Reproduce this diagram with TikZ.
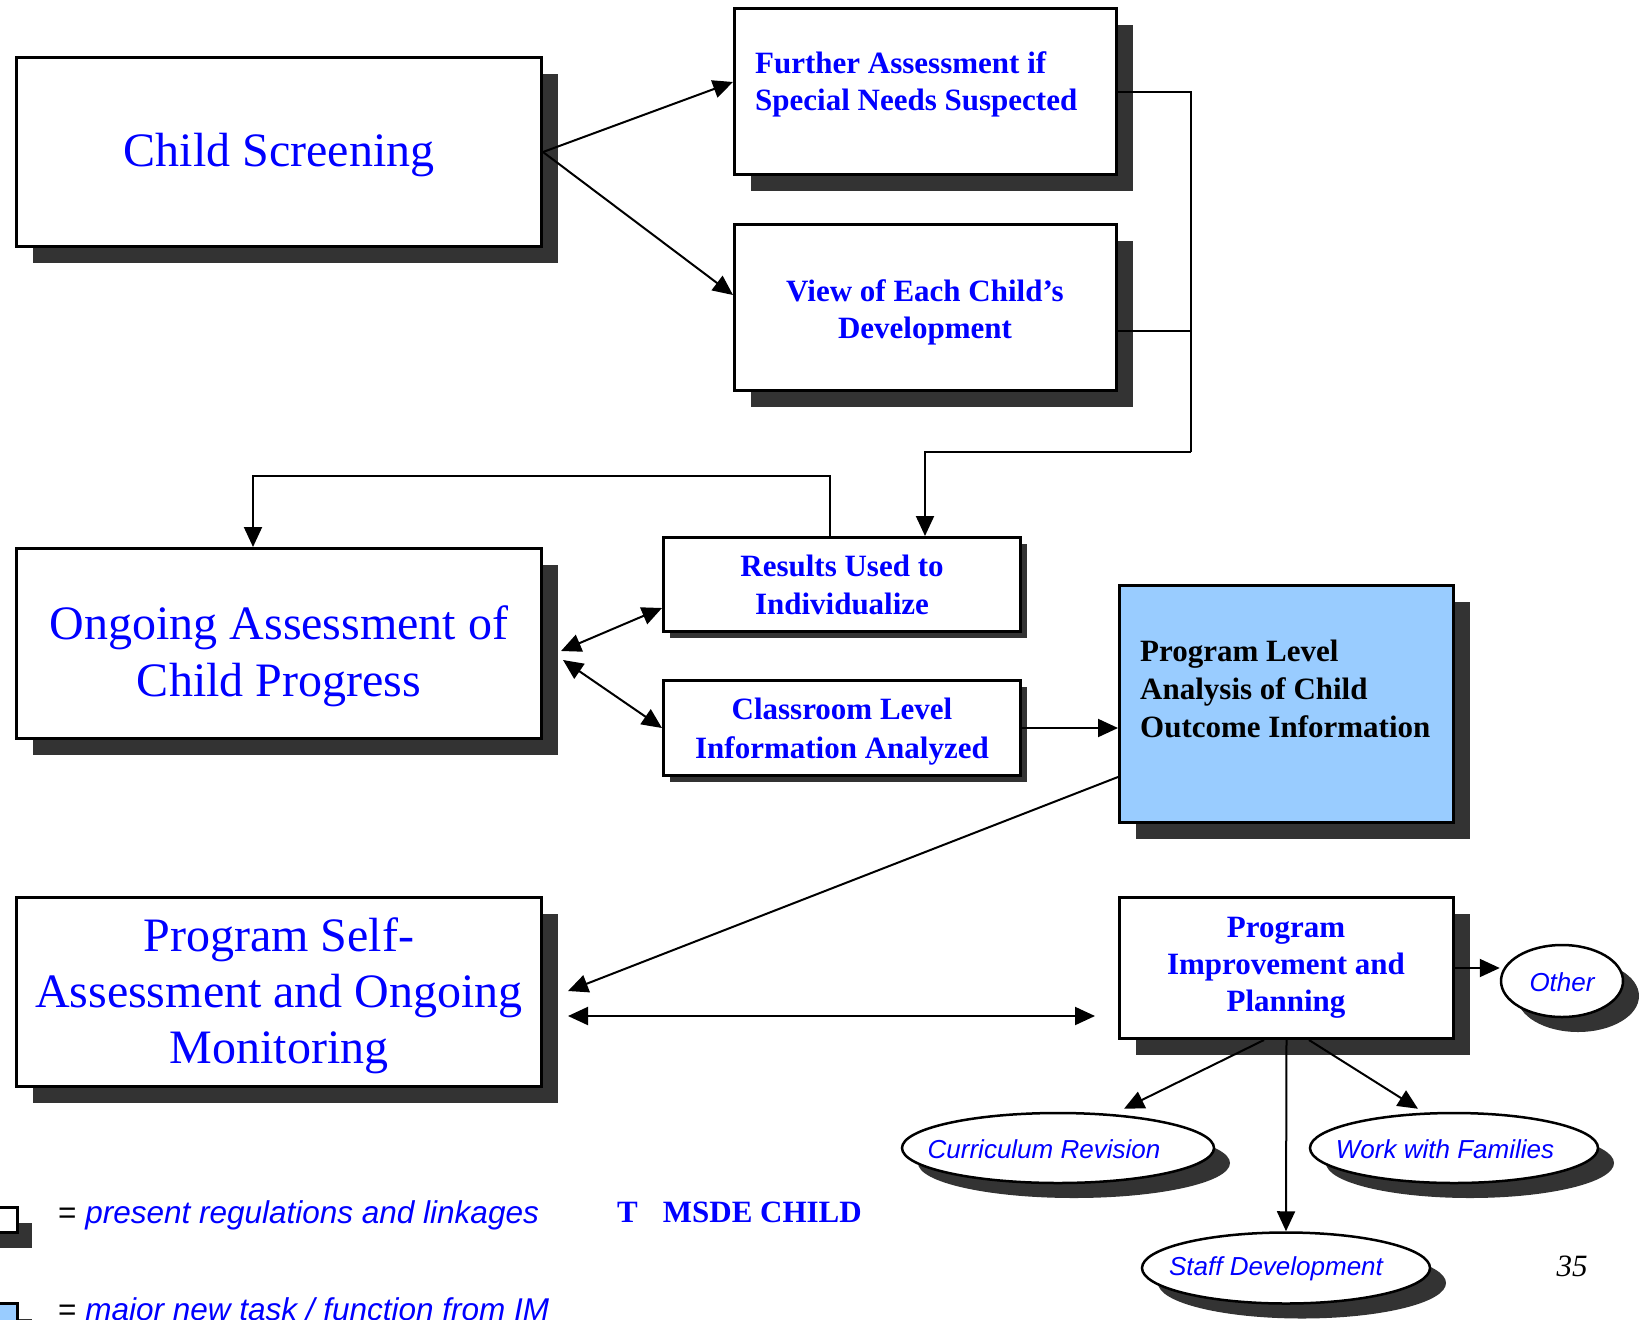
\documentclass[tikz,border=0pt]{standalone}
\usepackage{fontspec}
\setmainfont{Liberation Serif}
\newfontfamily\arialf{Liberation Sans}
\usetikzlibrary{arrows.meta,shapes.geometric,shadows}
\definecolor{tblue}{HTML}{0000FF}
\definecolor{shd}{HTML}{333333}
\definecolor{lblue}{HTML}{99CCFF}
\begin{document}
\begin{tikzpicture}[x=1pt,y=-1pt,
  box/.style={draw=black, line width=3pt, fill=white, rectangle, inner sep=0pt},
  bigsh/.style={drop shadow={shadow xshift=16pt, shadow yshift=-16pt, fill=shd, opacity=1}},
  smallsh/.style={drop shadow={shadow xshift=6pt, shadow yshift=-6pt, fill=shd, opacity=1}},
  oval/.style={ellipse, draw=black, line width=2.5pt, fill=white, inner sep=0pt,
    drop shadow={shadow xshift=16pt, shadow yshift=-15pt, fill=shd, opacity=1}},
  arr/.style={line width=2pt, -{Triangle[length=20pt,width=18pt]}},
  darr/.style={line width=2pt, {Triangle[length=20pt,width=18pt]}-{Triangle[length=20pt,width=18pt]}},
  ln/.style={line width=2pt},
  bigtxt/.style={text=tblue, font=\fontsize{48}{57}\selectfont, align=center, inner sep=0pt},
  boldtxt/.style={text=tblue, font=\bfseries\fontsize{31}{37}\selectfont, align=center, inner sep=0pt},
  ovaltxt/.style={text=tblue, font=\arialf\itshape\fontsize{26}{30}\selectfont, inner sep=0pt},
  legtxt/.style={font=\arialf\fontsize{31.5}{36}\selectfont, inner sep=0pt, anchor=base west},
]
\useasboundingbox (0,0) rectangle (1647,1320);
\clip (0,0) rectangle (1647,1320);

% boxes
\node[box, bigsh, minimum width=525pt, minimum height=189pt] (cs) at (279,152) {};
\node[box, bigsh, minimum width=382pt, minimum height=166pt] (further) at (925.5,91.5) {};
\node[box, bigsh, minimum width=382pt, minimum height=166pt] (view) at (925.5,307.5) {};
\node[box, smallsh, minimum width=357pt, minimum height=94pt] (results) at (842,584.5) {};
\node[box, smallsh, minimum width=357pt, minimum height=95pt] (classroom) at (842,728) {};
\node[box, bigsh, minimum width=525pt, minimum height=190pt] (ongoing) at (279,643.5) {};
\node[box, bigsh, fill=lblue, minimum width=334pt, minimum height=237pt] (proglevel) at (1286.5,704) {};
\node[box, bigsh, minimum width=525pt, minimum height=189pt] (progself) at (279,992) {};
\node[box, bigsh, minimum width=334pt, minimum height=141pt] (progimp) at (1286.5,968) {};

% ovals
\node[oval, minimum width=122pt, minimum height=72pt] (other) at (1562,981) {};
\node[oval, minimum width=312pt, minimum height=70pt] (curr) at (1058,1148) {};
\node[oval, minimum width=288pt, minimum height=70pt] (work) at (1454,1148) {};
\node[oval, minimum width=288pt, minimum height=71pt] (staff) at (1286,1268) {};

% texts
\node[bigtxt] (csT) at (279,155) {Child Screening};
\node[boldtxt, align=left, anchor=west] (furtherT) at (755,84) {Further Assessment if\\Special Needs Suspected};
\node[boldtxt] (viewT) at (925,312.5) {View of Each Child’s\\Development};
\node[boldtxt, font=\bfseries\fontsize{31}{38}\selectfont] (resultsT) at (842,585) {Results Used to\\Individualize};
\node[boldtxt, font=\bfseries\fontsize{31}{39}\selectfont] (classroomT) at (842,731.5) {Classroom Level\\Information Analyzed};
\node[boldtxt, text=black, align=left, anchor=west, font=\bfseries\fontsize{31}{38}\selectfont] (proglevelT) at (1140,689) {Program Level\\Analysis of Child\\Outcome Information};
\node[boldtxt] (progimpT) at (1286,968) {Program\\Improvement and\\Planning};
\node[bigtxt] (ongoingT) at (279,656.5) {Ongoing Assessment of\\Child Progress};
\node[bigtxt, font=\fontsize{48}{56}\selectfont] (progselfT) at (279,995.5) {Program Self-\\Assessment and Ongoing\\Monitoring};
\node[ovaltxt] (otherT) at (1562,982) {Other};
\node[ovaltxt] (currT) at (1044,1149) {Curriculum Revision};
\node[ovaltxt] (workT) at (1445,1149) {Work with Families};
\node[ovaltxt] (staffT) at (1276,1269) {Staff Development};

% connectors
\draw[arr] (cs.east) -- ([yshift=9.5pt]further.west);
\draw[arr] (cs.east) -- ([yshift=12.5pt]view.west);
\coordinate (j) at (1191,452);
\draw[ln] (further.east) -| (j);
\draw[ln] ([yshift=-23.5pt]view.east) -- ([yshift=-23.5pt]view.east -| j);
\draw[arr] (j) -| ([xshift=83pt]results.north);
\coordinate (bend) at (253,476);
\draw[arr] ([xshift=-12pt]results.north) |- (bend) -- (bend |- ongoing.north);
\draw[darr] ([xshift=18pt,yshift=-7.5pt]ongoing.east) -- ([yshift=-23.5pt]results.west);
\draw[darr] ([xshift=20pt,yshift=-16.5pt]ongoing.east) -- (classroom.west);
\draw[arr] (classroom.east) -- (proglevel.west |- classroom.east);
\draw[arr] ([yshift=-73pt]proglevel.west) -- ([xshift=25pt,yshift=1pt]progself.east);
\draw[darr] ([xshift=25pt,yshift=-24pt]progself.east) -- ([xshift=-23pt,yshift=-48pt]progimp.west);
\draw[arr] (progimp.east) -- (other.west |- progimp.east);
\draw[arr] ([xshift=-22.5pt]progimp.south) -- ([xshift=66pt,yshift=3pt]curr.north);
\draw[arr] ([xshift=22.5pt]progimp.south) -- ([xshift=-36pt,yshift=3pt]work.north);
\draw[arr] (progimp.south) -- (staff.north);

% legend
\node[box, drop shadow={shadow xshift=15pt, shadow yshift=-16pt, fill=shd, opacity=1}, minimum width=47pt, minimum height=25pt] (leg1) at (-6.5,1219.5) {};
\node[box, fill=lblue, drop shadow={shadow xshift=15pt, shadow yshift=-16pt, fill=shd, opacity=1}, minimum width=47pt, minimum height=30pt] (leg2) at (-6.5,1318) {};
\node[legtxt] (leg1T) at (58,1223) {= \textcolor{tblue}{\itshape present regulations and linkages}};
\node[legtxt] (leg2T) at (58,1320) {= \textcolor{tblue}{\itshape major new task / function from IM}};
\node[inner sep=0pt, anchor=base west, text=tblue, font=\bfseries\fontsize{31}{36}\selectfont] (msde) at (617,1222) {T\hspace{25pt}MSDE CHILD};
\node[inner sep=0pt, anchor=base, font=\itshape\fontsize{31}{36}\selectfont] (pagenum) at (1572,1276) {35};
\end{tikzpicture}
\end{document}
